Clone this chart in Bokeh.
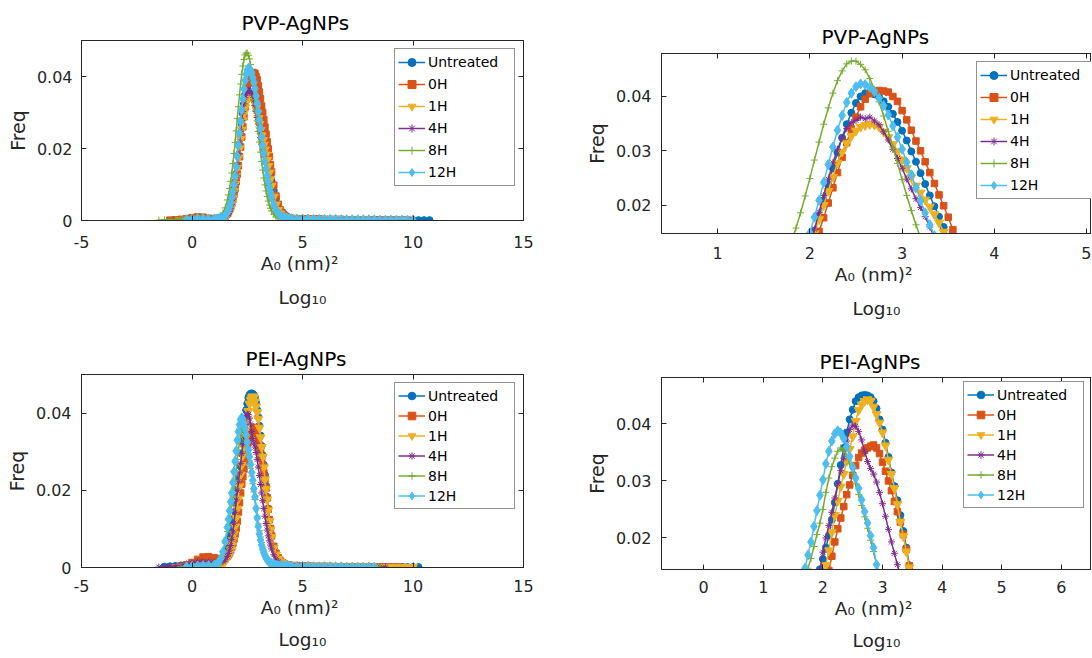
import numpy as np
from bokeh.plotting import figure
from bokeh.models import (Range1d, FixedTicker, LinearAxis, Legend,
                          LegendItem, ColumnDataSource)
from bokeh.layouts import column, row
from bokeh.embed import file_html
from bokeh.resources import INLINE

FONT = "DejaVu Sans"
TXT = "#262626"

SERIES = ["Untreated", "0H", "1H", "4H", "8H", "12H"]
COLORS = ["#0072BD", "#D95319", "#EDB120", "#7E2F8E", "#77AC30", "#4DBEEE"]
MARKERS = ["circle", "square", "inverted_triangle", "asterisk", "cross", "diamond"]
MSIZES = [7, 6.5, 9, 7, 7, 10]
FILLED = [True, True, True, False, False, True]

# log10 area grid (shared by every series)
X_GRID = [
    -1.5, -1.25, -1.0, -0.75, -0.5, -0.25, 0.0, 0.25, 0.5, 0.75,
    1.0, 1.1, 1.2, 1.3, 1.4, 1.5, 1.6,
    1.65, 1.7, 1.75, 1.8, 1.85, 1.9, 1.95, 2.0, 2.05, 2.1,
    2.15, 2.2, 2.25, 2.3, 2.35, 2.4, 2.45, 2.5, 2.55, 2.6,
    2.65, 2.7, 2.75, 2.8, 2.85, 2.9, 2.95, 3.0, 3.05, 3.1,
    3.15, 3.2, 3.25, 3.3, 3.35, 3.4, 3.45, 3.5, 3.55, 3.6,
    3.7, 3.8, 3.9, 4.0, 4.1, 4.2, 4.3, 4.4, 4.5,
    4.75, 5.0, 5.25, 5.5, 5.75, 6.0, 6.25, 6.5, 6.75, 7.0, 7.25, 7.5, 7.75,
    8.0, 8.25, 8.5, 8.75, 9.0, 9.25, 9.5, 9.75, 10.0, 10.25, 10.5, 10.75,
]

# ---------------- PVP-AgNPs ----------------
PVP_UNTREATED = [
    None, None, None, None, None, 0.0002, 0.0004, 0.0006, 0.0006, 0.0005,
    0.0004, 0.0004, 0.0005, 0.0006, 0.0008, 0.0013, 0.0021,
    0.0027, 0.0035, 0.0044, 0.0056, 0.0070, 0.0087, 0.0106, 0.0129, 0.0153, 0.0180,
    0.0208, 0.0238, 0.0268, 0.0297, 0.0324, 0.0349, 0.0370, 0.0388, 0.0400, 0.0406,
    0.0407, 0.0404, 0.0399, 0.0391, 0.0381, 0.0368, 0.0353, 0.0337, 0.0319, 0.0299,
    0.0280, 0.0259, 0.0239, 0.0218, 0.0198, 0.0179, 0.0160, 0.0142, 0.0126, 0.0110,
    0.0083, 0.0061, 0.0043, 0.0030, 0.0023, 0.0016, 0.0011, 0.0008, 0.0006,
    0.0005, 0.0005, 0.0004, 0.0004, 0.0004,
    0.0003, 0.0003, 0.0003, 0.0003, 0.0002,
    0.0002, 0.0002, 0.0002, 0.0002, 0.0002,
    0.0001, 0.0001, 0.0001, 0.0001, 0.0001,
    0.0001, 0.0001, 0.0001, 0.0001, 0.0001,
]
PVP_0H = [
    None, None, 0.0001, 0.0002, 0.0003, 0.0005, 0.0008, 0.0010, 0.0009, 0.0006,
    0.0005, 0.0005, 0.0006, 0.0007, 0.0009, 0.0012, 0.0019,
    0.0024, 0.0031, 0.0038, 0.0048, 0.0059, 0.0073, 0.0089, 0.0108, 0.0129, 0.0152,
    0.0177, 0.0204, 0.0232, 0.0260, 0.0288, 0.0315, 0.0340, 0.0362, 0.0381, 0.0395,
    0.0405, 0.0410, 0.0411, 0.0410, 0.0408, 0.0400, 0.0391, 0.0374, 0.0357, 0.0338,
    0.0318, 0.0300, 0.0280, 0.0260, 0.0240, 0.0219, 0.0199, 0.0178, 0.0155, 0.0135,
    0.0098, 0.0068, 0.0045, 0.0029, 0.0019, 0.0013, 0.0009, 0.0007, 0.0006,
    0.0005, 0.0005, 0.0004, 0.0004, 0.0004,
    0.0003, 0.0003, 0.0003, 0.0003, 0.0002,
    0.0002, 0.0002, 0.0002, 0.0002, 0.0002,
    0.0001, 0.0001, 0.0001, 0.0001, 0.0001,
    0.0001, None, None, None, None,
]
PVP_1H = [
    None, None, None, None, 0.0001, 0.0002, 0.0004, 0.0005, 0.0005, 0.0004,
    0.0004, 0.0004, 0.0004, 0.0005, 0.0006, 0.0009, 0.0015,
    0.0020, 0.0027, 0.0036, 0.0048, 0.0063, 0.0081, 0.0101, 0.0124, 0.0148, 0.0174,
    0.0200, 0.0226, 0.0252, 0.0278, 0.0298, 0.0314, 0.0327, 0.0337, 0.0344, 0.0347,
    0.0349, 0.0348, 0.0344, 0.0335, 0.0325, 0.0312, 0.0299, 0.0284, 0.0268, 0.0251,
    0.0236, 0.0223, 0.0210, 0.0197, 0.0183, 0.0168, 0.0151, 0.0133, 0.0114, 0.0096,
    0.0066, 0.0044, 0.0029, 0.0019, 0.0013, 0.0009, 0.0007, 0.0006, 0.0005,
    0.0005, 0.0004, 0.0004, 0.0004, 0.0003,
    0.0003, 0.0003, 0.0003, 0.0002, 0.0002,
    0.0002, 0.0002, 0.0002, 0.0002, 0.0001,
    0.0001, 0.0001, 0.0001, 0.0001, 0.0001,
    None, None, None, None, None,
]
PVP_4H = [
    None, None, None, 0.0001, 0.0002, 0.0003, 0.0005, 0.0006, 0.0006, 0.0005,
    0.0005, 0.0005, 0.0006, 0.0007, 0.0008, 0.0010, 0.0015,
    0.0019, 0.0025, 0.0034, 0.0045, 0.0060, 0.0078, 0.0100, 0.0126, 0.0156, 0.0187,
    0.0218, 0.0248, 0.0278, 0.0303, 0.0324, 0.0341, 0.0352, 0.0356, 0.0362, 0.0359,
    0.0362, 0.0355, 0.0348, 0.0335, 0.0320, 0.0303, 0.0286, 0.0268, 0.0248, 0.0230,
    0.0212, 0.0196, 0.0179, 0.0160, 0.0140, 0.0120, 0.0102, 0.0085, 0.0070, 0.0057,
    0.0037, 0.0023, 0.0015, 0.0010, 0.0007, 0.0006, 0.0005, 0.0005, 0.0004,
    0.0004, 0.0004, 0.0003, 0.0003, 0.0003,
    0.0003, 0.0002, 0.0002, 0.0002, 0.0002,
    0.0002, 0.0002, 0.0001, 0.0001, 0.0001,
    0.0001, 0.0001, 0.0001, 0.0001, None,
    None, None, None, None, None,
]
PVP_8H = [
    0.0001, 0.0002, 0.0002, 0.0003, 0.0004, 0.0006, 0.0009, 0.0011, 0.0010, 0.0007,
    0.0005, 0.0006, 0.0008, 0.0012, 0.0021, 0.0035, 0.0057,
    0.0071, 0.0089, 0.0109, 0.0132, 0.0158, 0.0186, 0.0217, 0.0249, 0.0283, 0.0316,
    0.0349, 0.0379, 0.0406, 0.0429, 0.0447, 0.0460, 0.0465, 0.0465, 0.0459, 0.0449,
    0.0433, 0.0413, 0.0390, 0.0364, 0.0336, 0.0307, 0.0277, 0.0247, 0.0218, 0.0190,
    0.0164, 0.0140, 0.0118, 0.0099, 0.0082, 0.0067, 0.0054, 0.0043, 0.0034, 0.0027,
    0.0017, 0.0010, 0.0007, 0.0005, 0.0004, 0.0004, 0.0003, 0.0003, 0.0003,
    0.0003, 0.0003, 0.0002, 0.0002, 0.0002,
    0.0002, 0.0002, 0.0002, 0.0001, 0.0001,
    0.0001, 0.0001, 0.0001, 0.0001, 0.0001,
    0.0001, 0.0001, 0.0001, None, None,
    None, None, None, None, None,
]
PVP_12H = [
    None, None, None, None, None, 0.0002, 0.0004, 0.0005, 0.0005, 0.0004,
    0.0004, 0.0004, 0.0005, 0.0006, 0.0008, 0.0013, 0.0022,
    0.0029, 0.0038, 0.0049, 0.0063, 0.0080, 0.0100, 0.0123, 0.0149, 0.0178, 0.0209,
    0.0242, 0.0275, 0.0307, 0.0338, 0.0365, 0.0389, 0.0406, 0.0418, 0.0423, 0.0422,
    0.0417, 0.0409, 0.0397, 0.0383, 0.0366, 0.0346, 0.0325, 0.0303, 0.0279, 0.0256,
    0.0232, 0.0208, 0.0186, 0.0164, 0.0144, 0.0125, 0.0108, 0.0092, 0.0078, 0.0065,
    0.0045, 0.0030, 0.0021, 0.0014, 0.0010, 0.0007, 0.0006, 0.0005, 0.0005,
    0.0004, 0.0004, 0.0004, 0.0003, 0.0003,
    0.0003, 0.0003, 0.0003, 0.0002, 0.0002,
    0.0002, 0.0002, 0.0002, 0.0002, 0.0002,
    0.0001, 0.0001, 0.0001, 0.0001, 0.0001,
    0.0001, 0.0001, None, None, None,
]

# ---------------- PEI-AgNPs ----------------
PEI_UNTREATED = [
    None, 0.0002, 0.0003, 0.0004, 0.0005, 0.0006, 0.0008, 0.0009, 0.0010, 0.0010,
    0.0010, 0.0010, 0.0011, 0.0015, 0.0022, 0.0033, 0.0048,
    0.0058, 0.0069, 0.0082, 0.0096, 0.0112, 0.0128, 0.0145, 0.0163, 0.0183, 0.0204,
    0.0232, 0.0262, 0.0295, 0.0328, 0.0358, 0.0385, 0.0408, 0.0425, 0.0440, 0.0447,
    0.0450, 0.0451, 0.0450, 0.0447, 0.0440, 0.0427, 0.0408, 0.0390, 0.0367, 0.0342,
    0.0315, 0.0291, 0.0266, 0.0240, 0.0212, 0.0183, 0.0152, 0.0124, 0.0101, 0.0082,
    0.0053, 0.0034, 0.0022, 0.0015, 0.0010, 0.0007, 0.0006, 0.0005, 0.0005,
    0.0004, 0.0004, 0.0003, 0.0003, 0.0003,
    0.0003, 0.0002, 0.0002, 0.0002, 0.0002,
    0.0002, 0.0002, 0.0002, 0.0001, 0.0001,
    0.0001, 0.0001, 0.0001, 0.0001, 0.0001,
    0.0001, 0.0001, 0.0001, None, None,
]
PEI_0H = [
    None, None, None, None, 0.0003, 0.0007, 0.0013, 0.0021, 0.0027, 0.0028,
    0.0025, 0.0023, 0.0021, 0.0020, 0.0021, 0.0024, 0.0029,
    0.0033, 0.0038, 0.0045, 0.0053, 0.0063, 0.0074, 0.0087, 0.0101, 0.0120, 0.0143,
    0.0168, 0.0193, 0.0216, 0.0235, 0.0255, 0.0276, 0.0293, 0.0310, 0.0327, 0.0341,
    0.0349, 0.0354, 0.0358, 0.0361, 0.0363, 0.0358, 0.0348, 0.0333, 0.0317, 0.0300,
    0.0283, 0.0264, 0.0246, 0.0228, 0.0206, 0.0180, 0.0151, 0.0124, 0.0101, 0.0082,
    0.0055, 0.0037, 0.0025, 0.0017, 0.0012, 0.0009, 0.0007, 0.0006, 0.0005,
    0.0005, 0.0004, 0.0004, 0.0003, 0.0003,
    0.0003, 0.0003, 0.0002, 0.0002, 0.0002,
    0.0002, 0.0002, 0.0002, 0.0001, 0.0001,
    0.0001, 0.0001, 0.0001, 0.0001, 0.0001,
    None, None, None, None, None,
]
PEI_1H = [
    None, None, None, 0.0001, 0.0002, 0.0003, 0.0005, 0.0007, 0.0008, 0.0008,
    0.0007, 0.0007, 0.0007, 0.0008, 0.0011, 0.0016, 0.0024,
    0.0030, 0.0037, 0.0046, 0.0057, 0.0071, 0.0087, 0.0106, 0.0128, 0.0152, 0.0178,
    0.0210, 0.0240, 0.0265, 0.0290, 0.0312, 0.0335, 0.0356, 0.0378, 0.0405, 0.0424,
    0.0434, 0.0440, 0.0443, 0.0440, 0.0430, 0.0417, 0.0402, 0.0385, 0.0362, 0.0337,
    0.0312, 0.0287, 0.0259, 0.0228, 0.0203, 0.0176, 0.0148, 0.0120, 0.0098, 0.0079,
    0.0051, 0.0033, 0.0022, 0.0015, 0.0011, 0.0008, 0.0006, 0.0005, 0.0005,
    0.0004, 0.0004, 0.0004, 0.0003, 0.0003,
    0.0003, 0.0003, 0.0002, 0.0002, 0.0002,
    0.0002, 0.0002, 0.0002, 0.0002, 0.0001,
    0.0001, 0.0001, 0.0001, 0.0001, 0.0001,
    0.0001, 0.0001, None, None, None,
]
PEI_4H = [
    0.0001, 0.0002, 0.0003, 0.0004, 0.0006, 0.0009, 0.0012, 0.0015, 0.0016, 0.0015,
    0.0014, 0.0013, 0.0013, 0.0014, 0.0016, 0.0020, 0.0029,
    0.0036, 0.0045, 0.0057, 0.0073, 0.0092, 0.0115, 0.0143, 0.0175, 0.0200, 0.0222,
    0.0245, 0.0270, 0.0295, 0.0318, 0.0340, 0.0370, 0.0390, 0.0398, 0.0396, 0.0387,
    0.0372, 0.0352, 0.0334, 0.0322, 0.0312, 0.0298, 0.0280, 0.0260, 0.0238, 0.0215,
    0.0193, 0.0173, 0.0153, 0.0133, 0.0114, 0.0097, 0.0082, 0.0069, 0.0058, 0.0048,
    0.0033, 0.0022, 0.0015, 0.0011, 0.0008, 0.0006, 0.0005, 0.0005, 0.0004,
    0.0004, 0.0004, 0.0003, 0.0003, 0.0003,
    0.0002, 0.0002, 0.0002, 0.0002, 0.0002,
    0.0002, 0.0001, 0.0001, 0.0001, 0.0001,
    0.0001, 0.0001, None, None, None,
    None, None, None, None, None,
]
PEI_8H = [
    None, None, None, None, 0.0002, 0.0003, 0.0005, 0.0007, 0.0008, 0.0008,
    0.0008, 0.0010, 0.0015, 0.0024, 0.0040, 0.0063, 0.0093,
    0.0110, 0.0128, 0.0147, 0.0164, 0.0185, 0.0206, 0.0226, 0.0250, 0.0280, 0.0305,
    0.0325, 0.0340, 0.0352, 0.0358, 0.0354, 0.0344, 0.0330, 0.0313, 0.0295, 0.0276,
    0.0257, 0.0237, 0.0217, 0.0196, 0.0176, 0.0154, 0.0133, 0.0113, 0.0095, 0.0079,
    0.0065, 0.0053, 0.0043, 0.0035, 0.0028, 0.0023, 0.0018, 0.0015, 0.0012, 0.0010,
    0.0008, 0.0006, 0.0005, 0.0005, 0.0004, 0.0004, 0.0004, 0.0003, 0.0003,
    0.0003, 0.0003, 0.0003, 0.0002, 0.0002,
    0.0002, 0.0002, 0.0002, 0.0002, 0.0001,
    0.0001, 0.0001, 0.0001, 0.0001, 0.0001,
    0.0001, None, None, None, None,
    None, None, None, None, None,
]
PEI_12H = [
    None, None, None, None, None, 0.0002, 0.0003, 0.0004, 0.0005, 0.0005,
    0.0006, 0.0008, 0.0013, 0.0023, 0.0041, 0.0068, 0.0104,
    0.0125, 0.0147, 0.0170, 0.0193, 0.0220, 0.0248, 0.0275, 0.0302, 0.0330, 0.0352,
    0.0370, 0.0383, 0.0388, 0.0384, 0.0374, 0.0360, 0.0343, 0.0324, 0.0305, 0.0287,
    0.0267, 0.0246, 0.0226, 0.0204, 0.0183, 0.0153, 0.0128, 0.0106, 0.0087, 0.0071,
    0.0058, 0.0047, 0.0038, 0.0031, 0.0025, 0.0020, 0.0017, 0.0014, 0.0012, 0.0010,
    0.0008, 0.0006, 0.0005, 0.0005, 0.0004, 0.0004, 0.0004, 0.0003, 0.0003,
    0.0003, 0.0003, 0.0003, 0.0002, 0.0002,
    0.0002, 0.0002, 0.0002, 0.0002, 0.0001,
    0.0001, 0.0001, 0.0001, 0.0001, 0.0001,
    None, None, None, None, None,
    None, None, None, None, None,
]

PVP_DATA = [PVP_UNTREATED, PVP_0H, PVP_1H, PVP_4H, PVP_8H, PVP_12H]
PEI_DATA = [PEI_UNTREATED, PEI_0H, PEI_1H, PEI_4H, PEI_8H, PEI_12H]

# ticks
FULL_XTICKS = [-5, 0, 5, 10, 15]
FULL_XLABELS = ["-5", "0", "5", "10", "15"]
FULL_YTICKS = [0, 0.02, 0.04]
FULL_YLABELS = ["0", "0.02", "0.04"]
ZOOM_YTICKS = [0.02, 0.03, 0.04]
ZOOM_YLABELS = ["0.02", "0.03", "0.04"]
PVP_ZOOM_XTICKS = [1, 2, 3, 4, 5]
PVP_ZOOM_XLABELS = ["1", "2", "3", "4", "5"]
PEI_ZOOM_XTICKS = [0, 1, 2, 3, 4, 5, 6]
PEI_ZOOM_XLABELS = ["0", "1", "2", "3", "4", "5", "6"]

XLABEL = "A\u2080  (nm)\u00b2\nLog\u2081\u2080"
YLABEL = "Freq"

for _s in PVP_DATA + PEI_DATA:
    assert len(_s) == len(X_GRID), len(_s)


def style_axis(ax, ticks, labels, standoff):
    ax.ticker = FixedTicker(ticks=ticks)
    ax.major_label_overrides = {t: l for t, l in zip(ticks, labels)}
    ax.axis_line_color = TXT
    ax.major_tick_line_color = TXT
    ax.major_tick_in = 5
    ax.major_tick_out = 0
    ax.minor_tick_line_color = None
    ax.major_label_text_font = FONT
    ax.major_label_text_font_size = "16px"
    ax.major_label_text_color = TXT
    ax.major_label_standoff = int(standoff)


def blank_axis(ticks):
    return LinearAxis(ticker=FixedTicker(ticks=ticks), major_tick_in=5,
                      major_tick_out=0, minor_tick_line_color=None,
                      axis_line_color=TXT, major_tick_line_color=TXT,
                      major_label_text_font_size="1px",
                      major_label_text_color=None, major_label_standoff=0)


def make_panel(data, title, geom, xr, yr, xt, xl, yt, yl, xstand, ystand,
               title_offset, title_standoff, xlab_standoff, xlab_lh,
               ylab_standoff, right_axis, legend_loc, leg_row, leg_spacing):
    bl, fw, br, bt, fh, bb = geom
    p = figure(frame_width=fw, frame_height=fh, min_border_left=bl,
               min_border_right=br, min_border_top=bt, min_border_bottom=bb,
               x_range=Range1d(*xr), y_range=Range1d(*yr), title=title,
               toolbar_location=None, tools="", output_backend="svg")
    p.xgrid.grid_line_color = None
    p.ygrid.grid_line_color = None
    p.outline_line_color = TXT
    p.outline_line_width = 1
    p.background_fill_color = "white"
    p.border_fill_color = "white"

    t = p.title
    t.align = "left"
    t.offset = title_offset
    if hasattr(t, "standoff"):
        t.standoff = int(title_standoff)
    t.text_font = FONT
    t.text_font_size = "20px"
    t.text_font_style = "normal"
    t.text_color = "black"

    xa = p.below[0]
    ya = p.left[0]
    style_axis(xa, xt, xl, xstand)
    style_axis(ya, yt, yl, ystand)
    xa.axis_label = XLABEL
    xa.axis_label_text_font = FONT
    xa.axis_label_text_font_size = "18.5px"
    xa.axis_label_text_font_style = "normal"
    xa.axis_label_text_color = TXT
    xa.axis_label_text_line_height = xlab_lh
    xa.axis_label_standoff = int(xlab_standoff)
    ya.axis_label = YLABEL
    ya.axis_label_text_font = FONT
    ya.axis_label_text_font_size = "19px"
    ya.axis_label_text_font_style = "normal"
    ya.axis_label_text_color = TXT
    ya.axis_label_standoff = int(ylab_standoff)

    p.add_layout(blank_axis(xt), "above")
    if right_axis:
        p.add_layout(blank_axis(yt), "right")

    x = np.array(X_GRID, dtype=float)
    items = []
    for name, col, mk, sz, filled, yv in zip(SERIES, COLORS, MARKERS, MSIZES,
                                              FILLED, data):
        src = ColumnDataSource(dict(x=x, y=np.array(yv, dtype=float)))
        lr = p.line("x", "y", source=src, line_color=col, line_width=1.5)
        sr = p.scatter("x", "y", source=src, marker=mk, size=sz,
                       line_color=col, line_width=1,
                       fill_color=col if filled else None)
        items.append(LegendItem(label=name, renderers=[lr, sr]))

    leg = Legend(items=items, location=legend_loc, margin=8, padding=3,
                 spacing=leg_spacing, glyph_width=27, glyph_height=leg_row,
                 label_height=leg_row, label_width=83, label_standoff=3,
                 border_line_color=TXT, border_line_width=1,
                 background_fill_color="white", background_fill_alpha=1.0,
                 label_text_font=FONT, label_text_font_size="14px",
                 label_text_color="black")
    p.add_layout(leg)
    return p


p_tl = make_panel(PVP_DATA, "PVP-AgNPs", (81, 442, 37, 40, 180, 116),
                  (-5, 15), (0, 0.05), FULL_XTICKS, FULL_XLABELS,
                  FULL_YTICKS, FULL_YLABELS, 15, 9,
                  160, 12, 2, 1.63, 5, True, "top_right", 20, 2)
p_bl = make_panel(PEI_DATA, "PEI-AgNPs", (81, 442, 37, 38, 193, 90),
                  (-5, 15), (0, 0.05), FULL_XTICKS, FULL_XLABELS,
                  FULL_YTICKS, FULL_YLABELS, 12, 10,
                  164, 7, 2, 1.56, 5, True, "top_right", 19, 1)
p_tr = make_panel(PVP_DATA, "PVP-AgNPs", (101, 430, 0, 53, 180, 103),
                  (0.393, 5.052), (0.0148, 0.0479), PVP_ZOOM_XTICKS,
                  PVP_ZOOM_XLABELS, ZOOM_YTICKS, ZOOM_YLABELS, 13, 10,
                  160, 10, 2, 1.63, 5, False, (315, 34), 20, 2)
p_br = make_panel(PEI_DATA, "PEI-AgNPs", (101, 430, 0, 41, 192, 88),
                  (-0.708, 6.507), (0.01446, 0.04815), PEI_ZOOM_XTICKS,
                  PEI_ZOOM_XLABELS, ZOOM_YTICKS, ZOOM_YLABELS, 11, 10,
                  158, 8, 2, 1.56, 5, False, (302, 61), 19, 1)

layout = row(column(p_tl, p_bl), column(p_tr, p_br))
open("out.html", "w").write(file_html(layout, INLINE))
